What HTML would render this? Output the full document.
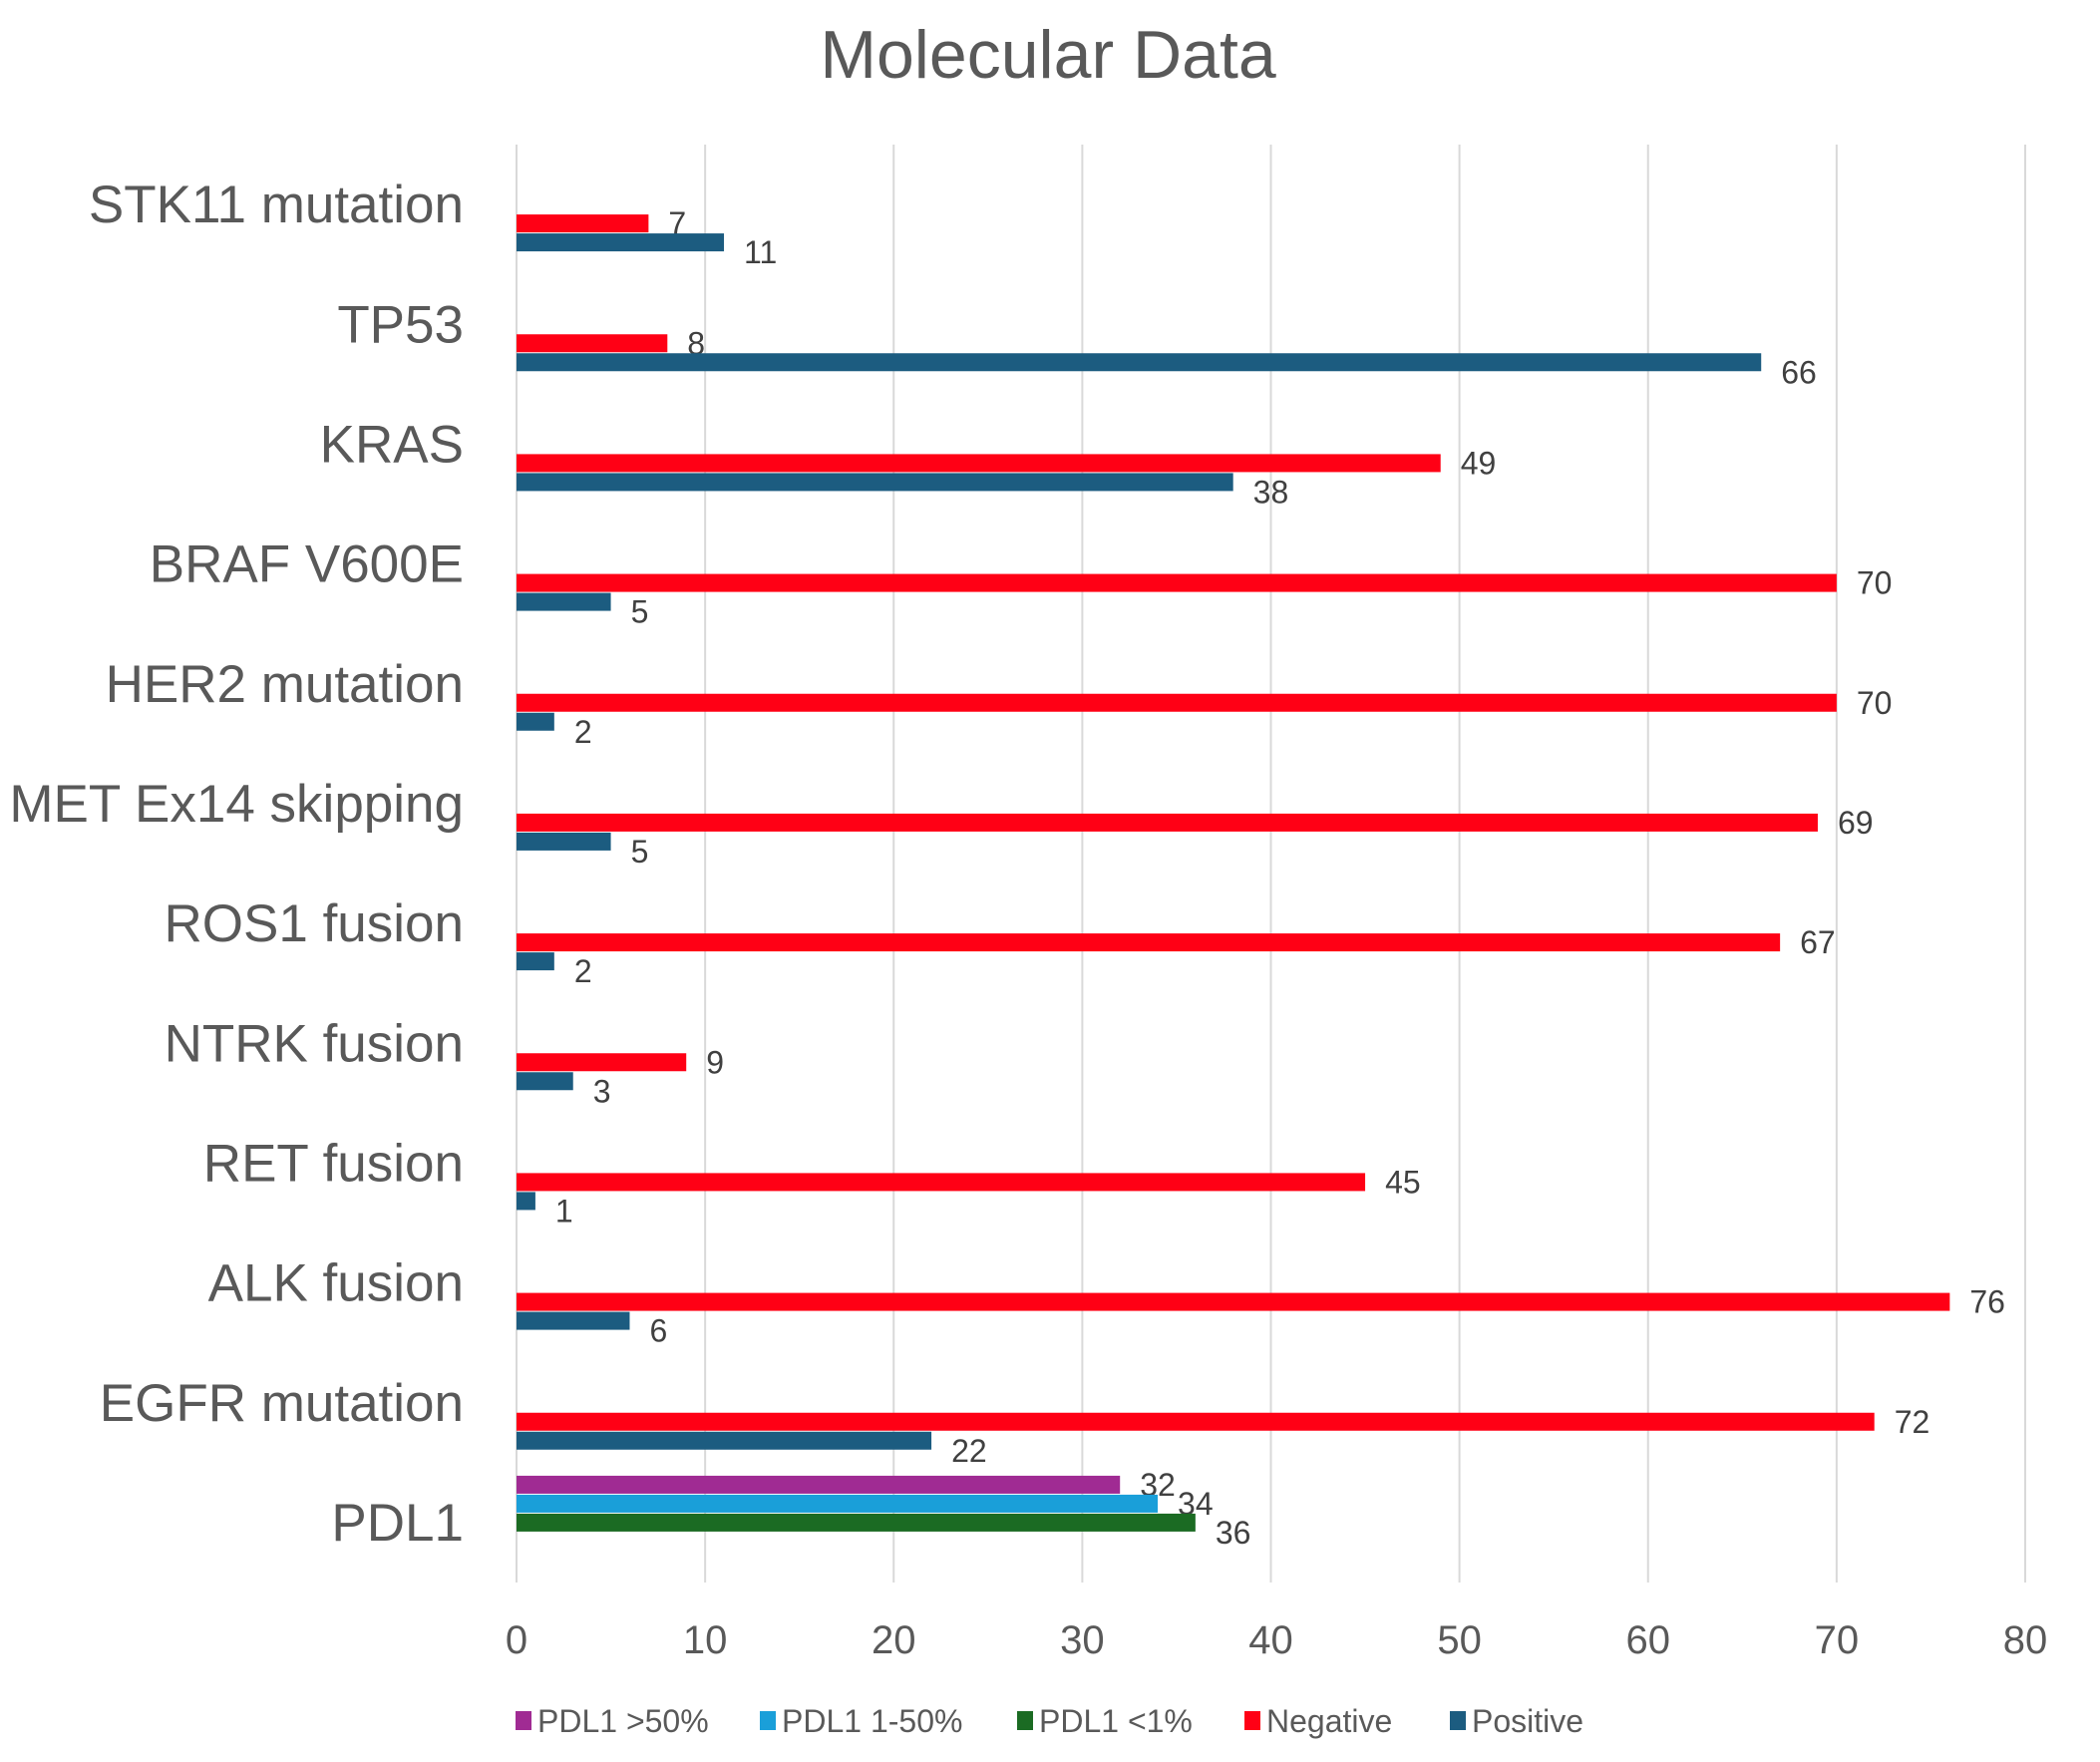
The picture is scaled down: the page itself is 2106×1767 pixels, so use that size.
<!DOCTYPE html>
<html><head><meta charset="utf-8"><style>
html,body{margin:0;padding:0;background:#fff;}
svg{display:block;font-family:"Liberation Sans",sans-serif;}
</style></head><body>
<svg id="chart" width="2106" height="1767" viewBox="0 0 2106 1767" xmlns="http://www.w3.org/2000/svg">
<text x="1051" y="78" text-anchor="middle" font-size="68" fill="#595959">Molecular Data</text>
<g id="grid"></g>
<g id="bars"></g>
<g id="cats"></g>
<g id="ticks"></g>
<g id="legend"></g>
</svg>
<script>
const categories = ["STK11 mutation","TP53","KRAS","BRAF V600E","HER2 mutation","MET Ex14 skipping","ROS1 fusion","NTRK fusion","RET fusion","ALK fusion","EGFR mutation","PDL1"];
const negative = [7,8,49,70,70,69,67,9,45,76,72,null];
const positive = [11,66,38,5,2,5,2,3,1,6,22,null];
const pdlHigh = [null,null,null,null,null,null,null,null,null,null,null,32];
const pdlMid = [null,null,null,null,null,null,null,null,null,null,null,34];
const pdlLow = [null,null,null,null,null,null,null,null,null,null,null,36];
const ticks = [0,10,20,30,40,50,60,70,80];
const seriesNames = ["PDL1 >50%","PDL1 1-50%","PDL1 <1%","Negative","Positive"];

const NS="http://www.w3.org/2000/svg";
const plotX0=518,plotX1=2031,plotTop=145,plotBottom=1587,xmax=80;
const band=(plotBottom-plotTop)/categories.length;
const xs=v=>plotX0+(plotX1-plotX0)*v/xmax;
const yc=i=>plotTop+band*(i+0.5);
const slot=19,bh=18;
const series=[
 {vals:pdlHigh,color:"#A02B93",off:-2,name:"bar-pdl1-high"},
 {vals:pdlMid,color:"#1A9FD9",off:-1,name:"bar-pdl1-mid"},
 {vals:pdlLow,color:"#1B6B23",off:0,name:"bar-pdl1-low"},
 {vals:negative,color:"#FF0015",off:1,name:"bar-negative"},
 {vals:positive,color:"#1C5C80",off:2,name:"bar-positive"}];
function el(t,a,p){const e=document.createElementNS(NS,t);for(const k in a)e.setAttribute(k,a[k]);p.appendChild(e);return e;}
const g=document.getElementById('grid');
ticks.forEach(t=>{
 const l=el('line',{x1:xs(t),x2:xs(t),y1:plotTop,y2:plotBottom,stroke:"#D9D9D9","stroke-width":2},g);
 
 
 const tx=el('text',{x:xs(t),y:1658,"text-anchor":"middle","font-size":40,fill:"#595959"},document.getElementById('ticks'));
 tx.textContent=t;
 
 
});
const cg=document.getElementById('cats');
categories.forEach((c,i)=>{
 const t=el('text',{x:465,y:yc(i)+18,"text-anchor":"end","font-size":53,fill:"#595959"},cg);
 t.textContent=c;
 
 
});
const bg=document.getElementById('bars');
series.forEach((s,si)=>{
 s.vals.forEach((v,i)=>{
  if(v===null)return;
  const cy=yc(i)+s.off*slot;
  const r=el('rect',{x:plotX0,y:cy-bh/2,width:xs(v)-plotX0,height:bh,fill:s.color},bg);
  
  
  const dy=(si===4||si===2)?10:0;
  const t=el('text',{x:xs(v)+20,y:cy+11+dy,"font-size":32,fill:"#404040"},bg);
  t.textContent=v;
  
  
 });
});
const lg=document.getElementById('legend');
const lx=[517,762,1020,1248,1454];
series.forEach((s,i)=>{
 const r=el('rect',{x:lx[i],y:1716,width:16,height:19,fill:s.color},lg);
 
 
 const t=el('text',{x:lx[i]+22,y:1737,"font-size":32,fill:"#595959"},lg);
 t.textContent=seriesNames[i];
 
 
});
</script>
</body></html>
